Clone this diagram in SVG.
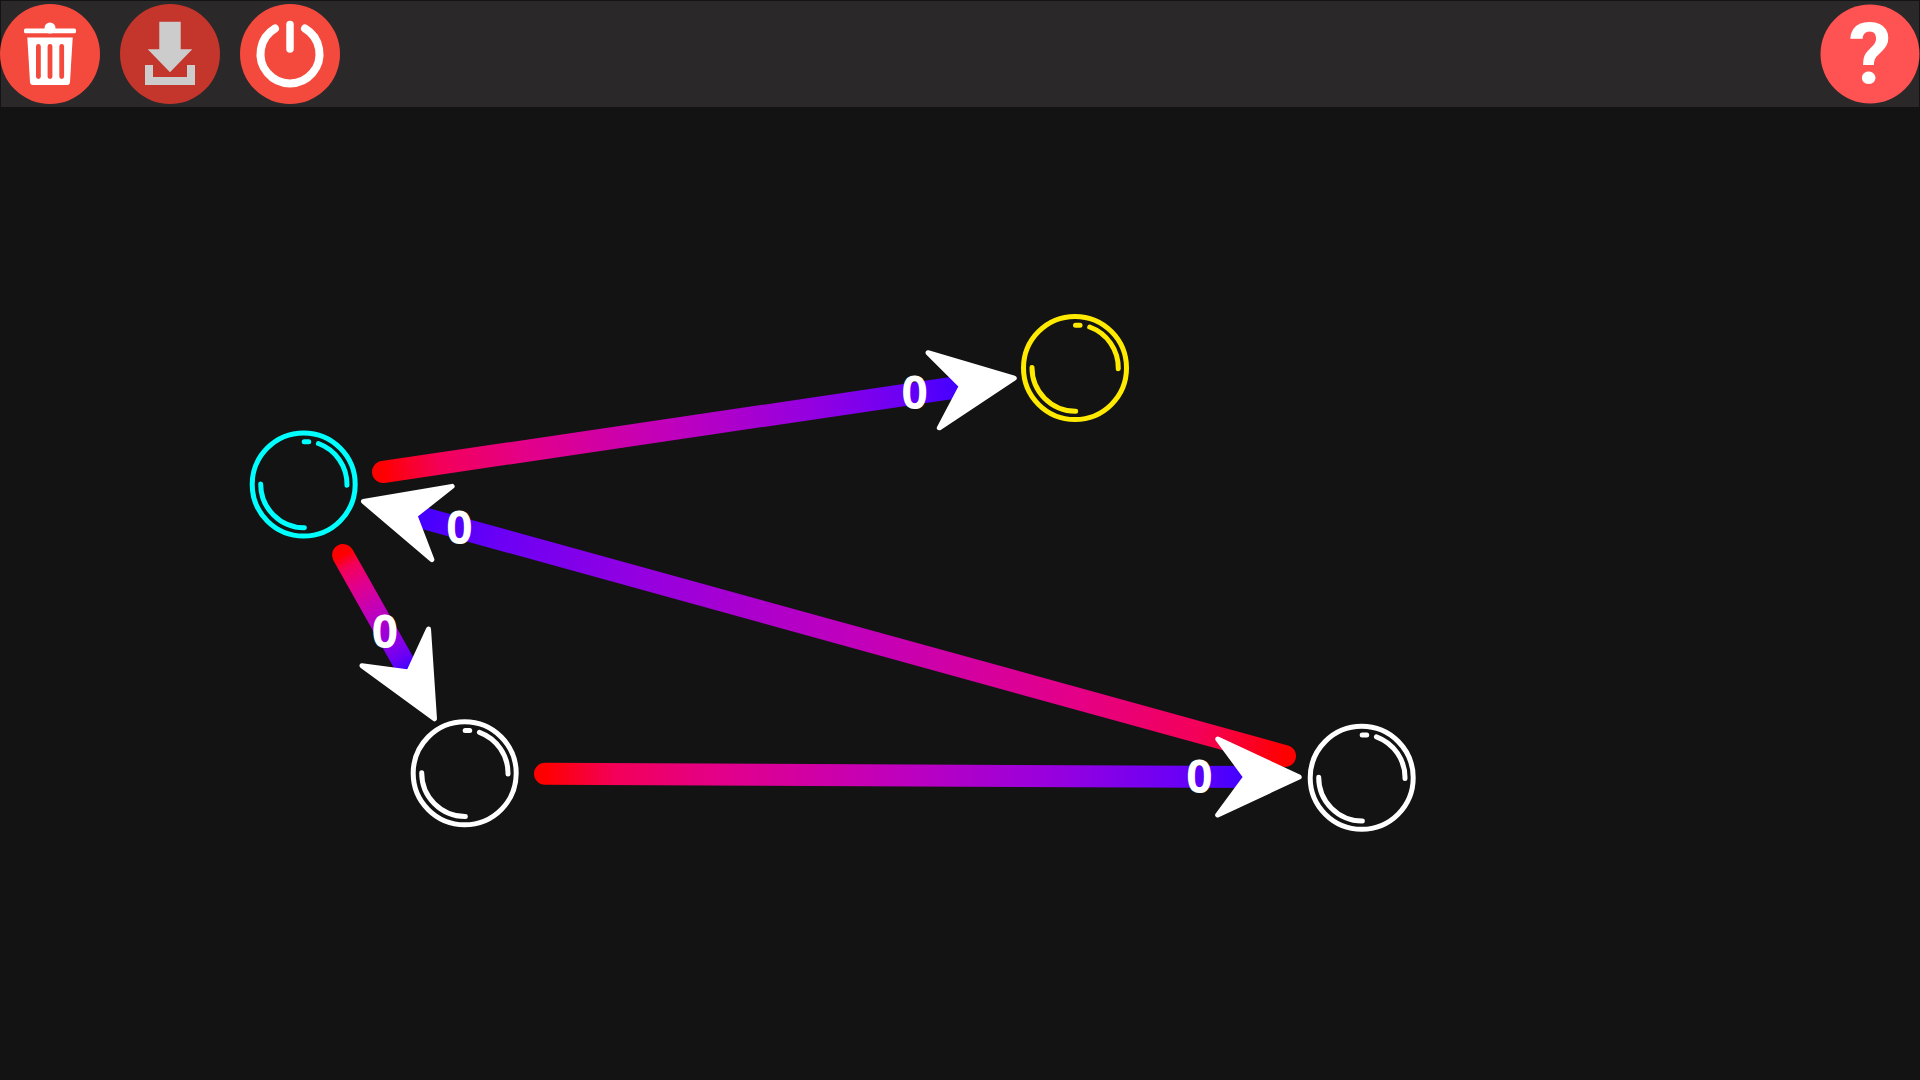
<svg xmlns="http://www.w3.org/2000/svg" xmlns:xlink="http://www.w3.org/1999/xlink" width="1920" height="1080" viewBox="0 0 1920 1080">
<style>
.edge{fill:none;stroke-width:22;stroke-linecap:round}
.head{fill:#fff;stroke:#fff;stroke-width:5;stroke-linejoin:round}
.lbl{font-family:"Open Sans","Liberation Sans",Arial,sans-serif;font-weight:700;font-size:46px;fill:#fff;text-anchor:middle}
.btn{fill:#f44a3e}
.mark{fill:none;stroke:currentColor;stroke-width:5;stroke-linecap:round}
.s0{stop-color:#f00}.s1{stop-color:#f30059}.s2{stop-color:#e30089}.s3{stop-color:#c000bc}.s4{stop-color:#9300e1}.s5{stop-color:#6d00f4}.s6{stop-color:#4400ff}
</style>
<defs>
<linearGradient id="g1" gradientUnits="userSpaceOnUse" x1="383" y1="472" x2="957" y2="387"><stop offset="0" class="s0"/><stop offset=".1" class="s1"/><stop offset=".25" class="s2"/><stop offset=".5" class="s3"/><stop offset=".75" class="s4"/><stop offset=".9" class="s5"/><stop offset="1" class="s6"/></linearGradient>
<linearGradient id="g2" href="#g1" xlink:href="#g1" x1="1285" y1="756" x2="419" y2="517"/>
<linearGradient id="g3" href="#g1" xlink:href="#g1" x1="343" y1="555" x2="407" y2="668"/>
<linearGradient id="g4" href="#g1" xlink:href="#g1" x1="545" y1="774" x2="1242" y2="777"/>
<path id="arrow" class="head" d="M-2.500 0L-84 -38L-56 0L-84 38Z"/>
<g id="bubble">
<circle class="mark" r="51.500"/>
<path class="mark" d="M.5 -42.800H5"/>
<path class="mark" d="M14.700 -41A43.500 43.500 0 0 1 43.300 .8"/>
<path class="mark" d="M-43 -.5A43.500 43.500 0 0 0 .7 43.200"/>
</g>
</defs>
<rect width="1920" height="1080" fill="#131313"/>
<rect id="toolbar" x="1" y="1" width="1918" height="106" fill="#2a2829"/>
<g id="btn-trash">
<circle class="btn" cx="50" cy="54" r="50"/>
<circle cx="50" cy="28" r="5.500" fill="#fff"/>
<rect x="24" y="28.500" width="52" height="4.800" rx="1.500" fill="#fff"/>
<path d="M27.300 37.500H72.700L70 82Q69.800 85 67 85H33Q30.200 85 30 82Z" fill="#fff"/>
<g fill="#f44a3e"><rect x="36" y="44" width="4.800" height="35" rx="2.400"/><rect x="47.600" y="44" width="4.800" height="35" rx="2.400"/><rect x="59.300" y="44" width="4.800" height="35" rx="2.400"/></g>
</g>
<g id="btn-download">
<circle cx="170" cy="54" r="50" fill="#c4352b"/>
<path d="M159.300 21.700H180.700V49.300H192.300L170 72.300L147.700 49.300H159.300Z" fill="#ccc"/>
<path d="M145 65H153V77H187V65H195V85H145Z" fill="#ccc"/>
</g>
<g id="btn-power">
<circle class="btn" cx="290" cy="54" r="50"/>
<path d="M275 28.500A29.500 29.500 0 1 0 305 28.500" fill="none" stroke="#fff" stroke-width="8" stroke-linecap="round"/>
<path d="M290 24.500V49" fill="none" stroke="#fff" stroke-width="7.500" stroke-linecap="round"/>
</g>
<g id="btn-help">
<circle cx="1870" cy="54" r="49.500" fill="#ff5252"/>
<text x="1870" y="84" font-family="Roboto, Liberation Sans, Arial, sans-serif" font-weight="700" font-size="86" fill="#fff" text-anchor="middle">?</text>
</g>
<g id="connectors">
<g id="edge-cyan-yellow"><path class="edge" stroke="url(#g1)" d="M383 472L972 385"/></g>
<g id="edge-white2-cyan"><path class="edge" stroke="url(#g2)" d="M1285 756L405 513"/></g>
<g id="edge-cyan-white1"><path class="edge" stroke="url(#g3)" d="M343 555L414 681"/></g>
<g id="edge-white1-white2"><path class="edge" stroke="url(#g4)" d="M545 773.700L1256 777"/></g>
<use xlink:href="#arrow" href="#arrow" transform="translate(1016.700 377.700) rotate(-8.600)"/>
<use xlink:href="#arrow" href="#arrow" transform="translate(361 500.700) rotate(195.400)"/>
<use xlink:href="#arrow" href="#arrow" transform="translate(435.700 721) rotate(61.200)"/>
<use xlink:href="#arrow" href="#arrow" transform="translate(1301.700 777)"/>
<text class="lbl" x="914.700" y="409">0</text>
<text class="lbl" x="459.300" y="544">0</text>
<text class="lbl" x="385" y="648">0</text>
<text class="lbl" x="1199.300" y="793">0</text>
</g>
<g id="node-cyan" color="#00ffff"><use xlink:href="#bubble" href="#bubble" x="303.700" y="484.500"/></g>
<g id="node-yellow" color="#ffea00"><use xlink:href="#bubble" href="#bubble" x="1075" y="368"/></g>
<g id="node-white-left" color="#ffffff"><use xlink:href="#bubble" href="#bubble" x="464.700" y="773.300"/></g>
<g id="node-white-right" color="#ffffff"><use xlink:href="#bubble" href="#bubble" x="1361.700" y="777.800"/></g>
</svg>
